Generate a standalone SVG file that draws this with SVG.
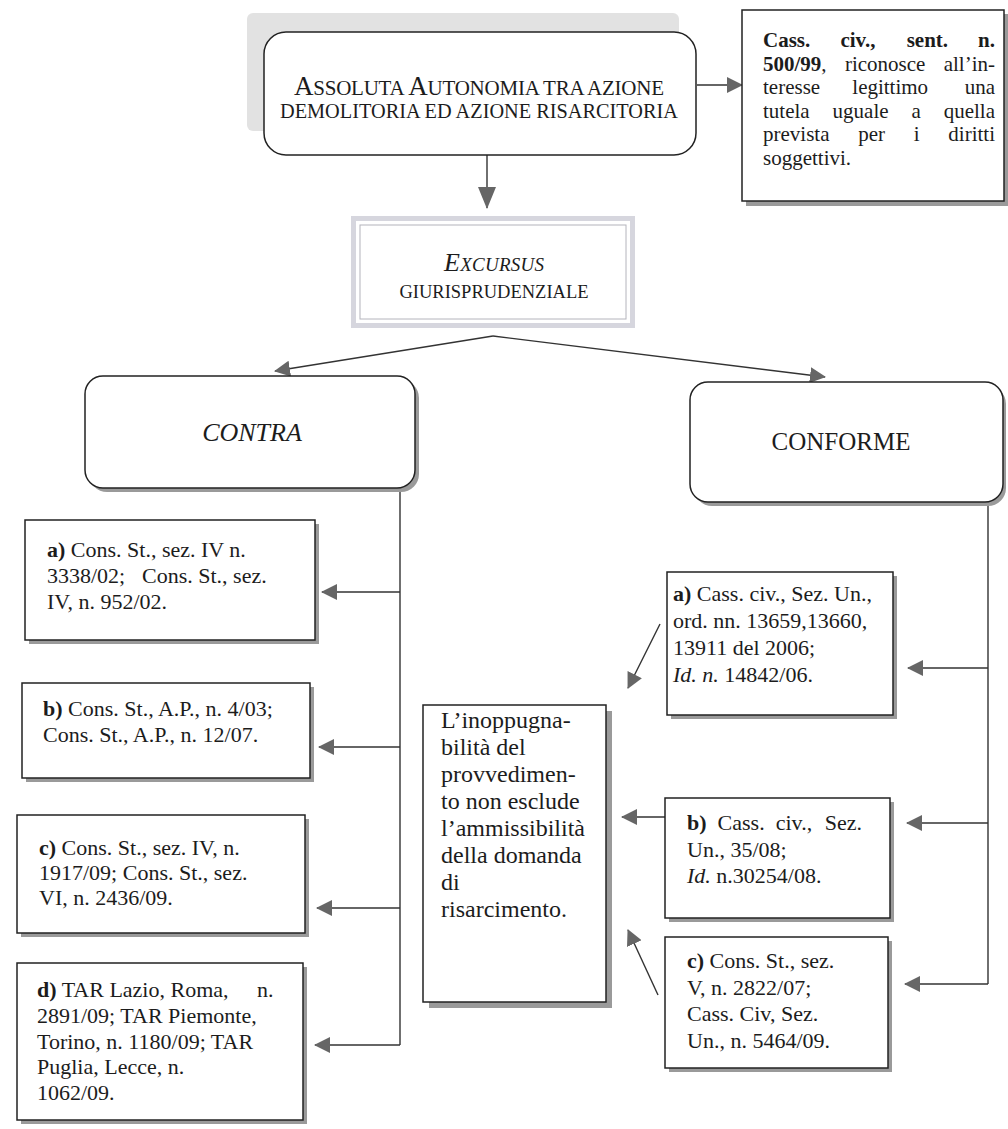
<svg xmlns="http://www.w3.org/2000/svg" width="1008" height="1129" viewBox="0 0 1008 1129">
<style>
.box{fill:#fff;stroke:#222;stroke-width:1.5}
.sh{fill:#9a9a9a}
.t{font-family:"Liberation Serif",serif;font-size:22px;fill:#1c1c1c}
.s{font-size:21px}
.m{font-size:24px}
.b{font-weight:bold}
.i{font-style:italic}
.conn{stroke:#333;stroke-width:1.4;fill:none}
</style>
<defs>
<marker id="ah" viewBox="0 0 16 16" markerWidth="16" markerHeight="16" refX="15" refY="8" orient="auto" markerUnits="userSpaceOnUse"><path d="M0,0 L16,8 L0,16 z" fill="#666"/></marker>
<marker id="ahL" viewBox="0 0 22 18" markerWidth="22" markerHeight="18" refX="21" refY="9" orient="auto" markerUnits="userSpaceOnUse"><path d="M0,0 L22,9 L0,18 z" fill="#666"/></marker>
</defs>
<rect width="1008" height="1129" fill="#fff"/>

<g id="connectors">
<path class="conn" d="M697,85 H742" marker-end="url(#ah)"/>
<path class="conn" d="M487,155 V208" marker-end="url(#ahL)"/>
<path class="conn" d="M493,336 L275,371" marker-end="url(#ah)"/>
<path class="conn" d="M493,336 L825,377" marker-end="url(#ah)"/>
<path class="conn" d="M400,488 V1045"/>
<path class="conn" d="M400,592 H322" marker-end="url(#ah)"/>
<path class="conn" d="M400,747 H319" marker-end="url(#ah)"/>
<path class="conn" d="M400,908 H317" marker-end="url(#ah)"/>
<path class="conn" d="M400,1045 H315" marker-end="url(#ah)"/>
<path class="conn" d="M988,502 V984"/>
<path class="conn" d="M988,668 H908" marker-end="url(#ah)"/>
<path class="conn" d="M988,823 H907" marker-end="url(#ah)"/>
<path class="conn" d="M988,984 H905" marker-end="url(#ah)"/>
<path class="conn" d="M660,624 L628,688" marker-end="url(#ah)"/>
<path class="conn" d="M665,817 H622" marker-end="url(#ah)"/>
<path class="conn" d="M658,995 L628,930" marker-end="url(#ah)"/>
</g>

<g id="n-autonomia">
<rect x="247" y="13" width="432" height="118" rx="6" fill="#e2e2e2"/>
<rect class="box" x="264" y="32" width="432" height="123" rx="22"/>
<text class="t" x="479" y="95" text-anchor="middle" textLength="370" lengthAdjust="spacing" style="font-size:21px"><tspan style="font-size:27px">A</tspan>SSOLUTA <tspan style="font-size:27px">A</tspan>UTONOMIA TRA AZIONE</text>
<text class="t" x="479" y="118" text-anchor="middle" textLength="398" lengthAdjust="spacingAndGlyphs" style="font-size:21px">DEMOLITORIA ED AZIONE RISARCITORIA</text>
</g>

<g id="n-cass500">
<rect class="sh" x="746" y="14" width="262" height="192"/>
<rect class="box" x="742" y="10" width="262" height="191"/>
<text class="t s b" y="47"><tspan x="763">Cass.</tspan><tspan x="840.4">civ.,</tspan><tspan x="906.7">sent.</tspan><tspan x="995" text-anchor="end">n.</tspan></text>
<text class="t s" y="70.5"><tspan x="763" class="b">500/99</tspan>,<tspan x="844.9">riconosce</tspan><tspan x="995" text-anchor="end">all’in-</tspan></text>
<text class="t s" y="94"><tspan x="763">teresse</tspan><tspan x="852.3">legittimo</tspan><tspan x="995" text-anchor="end">una</tspan></text>
<text class="t s" y="117.5"><tspan x="763">tutela</tspan><tspan x="832.6">uguale</tspan><tspan x="911.5">a</tspan><tspan x="995" text-anchor="end">quella</tspan></text>
<text class="t s" y="141"><tspan x="763">prevista</tspan><tspan x="858.2">per</tspan><tspan x="913.7">i</tspan><tspan x="995" text-anchor="end">diritti</tspan></text>
<text class="t s" x="763" y="164.5">soggettivi.</text>
</g>

<g id="n-excursus">
<rect x="351" y="216" width="284" height="112" fill="#d6d6de"/>
<rect x="356" y="221" width="274" height="102" fill="#fff"/>
<rect x="360" y="225" width="266" height="94" fill="none" stroke="#b4b4bc" stroke-width="1"/>
<text class="t i" x="494" y="271" text-anchor="middle" textLength="100" lengthAdjust="spacing" style="font-size:19px"><tspan style="font-size:26px">E</tspan>XCURSUS</text>
<text class="t" x="494" y="298" text-anchor="middle" style="font-size:18.5px">GIURISPRUDENZIALE</text>
</g>

<g id="n-contra">
<rect class="sh" x="89" y="380" width="330" height="112" rx="18"/>
<rect class="box" x="85" y="376" width="330" height="112" rx="18"/>
<text class="t i" x="252" y="441" text-anchor="middle" style="font-size:26px">CONTRA</text>
</g>

<g id="n-conforme">
<rect class="sh" x="694" y="386" width="312" height="120" rx="18"/>
<rect class="box" x="690" y="382" width="313" height="120" rx="18"/>
<text class="t" x="841" y="450" text-anchor="middle" style="font-size:25px">CONFORME</text>
</g>

<g id="n-contra-a">
<rect class="sh" x="29" y="524" width="290" height="120"/>
<rect class="box" x="25" y="520" width="290" height="120"/>
<text class="t" x="47" y="557"><tspan class="b">a)</tspan> Cons. St., sez. IV n.</text>
<text class="t" y="583"><tspan x="47">3338/02;</tspan><tspan x="142">Cons. St., sez.</tspan></text>
<text class="t" x="47" y="609">IV, n. 952/02.</text>
</g>

<g id="n-contra-b">
<rect class="sh" x="26" y="687" width="288" height="95"/>
<rect class="box" x="22" y="683" width="288" height="95"/>
<text class="t" x="43" y="716"><tspan class="b">b)</tspan> Cons. St., A.P., n. 4/03;</text>
<text class="t" x="43" y="742">Cons. St., A.P., n. 12/07.</text>
</g>

<g id="n-contra-c">
<rect class="sh" x="21" y="819" width="288" height="118"/>
<rect class="box" x="17" y="815" width="288" height="118"/>
<text class="t" x="39" y="855"><tspan class="b">c)</tspan> Cons. St., sez. IV, n.</text>
<text class="t" x="39" y="880">1917/09; Cons. St., sez.</text>
<text class="t" x="39" y="905">VI, n. 2436/09.</text>
</g>

<g id="n-contra-d">
<rect class="sh" x="21" y="967" width="286" height="157"/>
<rect class="box" x="17" y="963" width="286" height="157"/>
<text class="t" y="997"><tspan x="37"><tspan class="b">d)</tspan> TAR Lazio, Roma,</tspan><tspan x="257">n.</tspan></text>
<text class="t" x="37" y="1023">2891/09; TAR Piemonte,</text>
<text class="t" x="37" y="1049">Torino, n. 1180/09; TAR</text>
<text class="t" x="37" y="1074">Puglia, Lecce, n.</text>
<text class="t" x="37" y="1100">1062/09.</text>
</g>

<g id="n-inoppugnabilita">
<rect class="sh" x="429" y="711" width="183" height="297"/>
<rect class="box" x="423" y="705" width="183" height="297"/>
<text class="t m" x="441" y="728">L’inoppugna-</text>
<text class="t m" x="441" y="755">bilità del</text>
<text class="t m" x="441" y="782">provvedimen-</text>
<text class="t m" x="441" y="809">to non esclude</text>
<text class="t m" x="441" y="836">l’ammissibilità</text>
<text class="t m" x="441" y="863">della domanda</text>
<text class="t m" x="441" y="890">di</text>
<text class="t m" x="441" y="917">risarcimento.</text>
</g>

<g id="n-conforme-a">
<rect class="sh" x="671" y="576" width="226" height="143"/>
<rect class="box" x="667" y="572" width="226" height="143"/>
<text class="t" x="673" y="601"><tspan class="b">a)</tspan> Cass. civ., Sez. Un.,</text>
<text class="t" x="673" y="628">ord. nn. 13659,13660,</text>
<text class="t" x="673" y="655">13911 del 2006;</text>
<text class="t" x="673" y="682"><tspan class="i">Id. n.</tspan> 14842/06.</text>
</g>

<g id="n-conforme-b">
<rect class="sh" x="669" y="802" width="225" height="120"/>
<rect class="box" x="665" y="798" width="225" height="120"/>
<text class="t" y="830"><tspan x="687" class="b">b)</tspan><tspan x="717.6">Cass.</tspan><tspan x="775.7">civ.,</tspan><tspan x="862" text-anchor="end">Sez.</tspan></text>
<text class="t" x="687" y="857">Un., 35/08;</text>
<text class="t" x="687" y="883"><tspan class="i">Id.</tspan> n.30254/08.</text>
</g>

<g id="n-conforme-c">
<rect class="sh" x="669" y="941" width="223" height="131"/>
<rect class="box" x="665" y="937" width="223" height="131"/>
<text class="t" x="687" y="968"><tspan class="b">c)</tspan> Cons. St., sez.</text>
<text class="t" x="687" y="995">V, n. 2822/07;</text>
<text class="t" x="687" y="1021">Cass. Civ, Sez.</text>
<text class="t" x="687" y="1048">Un., n. 5464/09.</text>
</g>
</svg>
